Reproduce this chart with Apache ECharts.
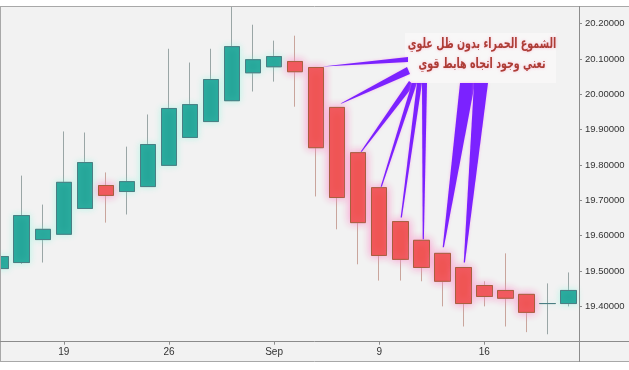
<!DOCTYPE html>
<html>
<head>
<meta charset="utf-8">
<script src="https://cdn.jsdelivr.net/npm/echarts@6/dist/echarts.min.js"></script>
<style>html,body{margin:0;padding:0;background:#fff;}#c{width:629px;height:370px;}</style>
</head>
<body>
<div id="c"></div>
<script>
// ---- data (daily candles) ----
const dates = ['2019-08-14','2019-08-15','2019-08-16',
  '2019-08-19','2019-08-20','2019-08-21','2019-08-22','2019-08-23',
  '2019-08-26','2019-08-27','2019-08-28','2019-08-29','2019-08-30',
  '2019-09-02','2019-09-03','2019-09-04','2019-09-05','2019-09-06',
  '2019-09-09','2019-09-10','2019-09-11','2019-09-12','2019-09-13',
  '2019-09-16','2019-09-17','2019-09-18','2019-09-19','2019-09-20'];
const opens  = [19.507,19.524,19.589,19.604,19.677,19.742,19.725,19.739,19.799,19.878,19.923,19.982,20.061,20.078,20.093,20.076,19.963,19.835,19.736,19.640,19.587,19.550,19.510,19.459,19.445,19.434,19.408,19.408];
const closes = [19.541,19.657,19.618,19.751,19.807,19.714,19.753,19.858,19.960,19.971,20.042,20.135,20.098,20.107,20.064,19.849,19.708,19.637,19.544,19.533,19.510,19.471,19.408,19.428,19.423,19.383,19.408,19.445];
const lows   = [19.369,19.520,19.524,19.603,19.676,19.637,19.660,19.738,19.798,19.877,19.922,19.981,20.008,20.036,19.965,19.711,19.618,19.519,19.473,19.473,19.471,19.400,19.343,19.400,19.343,19.327,19.321,19.400];
const highs  = [19.753,19.770,19.688,19.895,19.892,19.779,19.852,19.943,20.129,20.090,20.129,20.255,20.197,20.152,20.166,20.076,19.963,19.835,19.736,19.640,19.587,19.550,19.510,19.471,19.550,19.434,19.465,19.496];
const xLabelDates = ['2019-08-19','2019-08-26','2019-09-02','2019-09-09','2019-09-16'];
const xLabelTexts = ['19','26','Sep','9','16'];
const annotationText = 'الشموع الحمراء بدون ظل علوي\nتعني وجود اتجاه هابط قوي';
const annotatedCandles = ['2019-09-04','2019-09-05','2019-09-06','2019-09-09','2019-09-10','2019-09-11','2019-09-12','2019-09-13'];

const full = dates.map((d, i) => [opens[i], closes[i], lows[i], highs[i]]);
const bodies = dates.map((d, i) => {
  const up = closes[i] >= opens[i];
  return {
    value: [opens[i], closes[i], Math.min(opens[i], closes[i]), Math.max(opens[i], closes[i])],
    itemStyle: {shadowBlur: up ? 6 : 8, shadowOffsetX: 0, shadowOffsetY: 0,
      shadowColor: up ? 'rgba(120,255,225,0.45)' : 'rgba(255,140,200,0.95)'}
  };
});

const chart = echarts.init(document.getElementById('c'), null, {renderer: 'canvas', width: 629, height: 370});
const showLabel = (idx, val) => xLabelDates.indexOf(val) >= 0;

chart.setOption({
  animation: false,
  backgroundColor: '#f2f2f2',
  grid: {left: -9.8, right: 50, top: 6, bottom: 28.3, containLabel: false, outerBoundsMode: 'none'},
  xAxis: {
    type: 'category', data: dates, boundaryGap: true,
    axisLine: {show: false},
    axisTick: {show: true, alignWithLabel: true, interval: showLabel, length: 3, lineStyle: {color: '#8c8c8c'}},
    axisLabel: {interval: showLabel, formatter: v => xLabelTexts[xLabelDates.indexOf(v)], margin: 6,
      fontSize: 10, color: '#333', fontFamily: 'Liberation Sans'},
    splitLine: {show: false}
  },
  yAxis: {
    type: 'value', position: 'right', min: 19.3, max: 20.25, interval: 0.1, scale: true,
    axisLine: {show: false},
    axisTick: {show: true, length: 3, inside: false, lineStyle: {color: '#8c8c8c'}},
    axisLabel: {formatter: v => v.toFixed(5), margin: 6, fontSize: 9.5, color: '#333',
      fontFamily: 'Liberation Sans', showMinLabel: false, showMaxLabel: false},
    splitLine: {show: false}
  },
  series: [
    {
      type: 'candlestick', data: full, barWidth: 16, clip: true, z: 2, large: false,
      itemStyle: {color: '#26a69a', color0: '#ef5350', borderColor: '#9aa6a6', borderColor0: '#c9a59c', borderWidth: 1}
    },
    {
      type: 'candlestick', data: bodies, barWidth: 16, clip: true, z: 3, large: false,
      itemStyle: {color: '#26a69a', color0: '#ef5350', borderColor: '#4b7e84', borderColor0: '#a5603f', borderWidth: 1}
    }
  ]
});

// frame + annotation
const elems = [
  {type: 'rect', shape: {x: 0, y: 0, width: 629, height: 6}, style: {fill: '#ffffff'}, silent: true, z: 10},
  {type: 'rect', shape: {x: 0, y: 362, width: 629, height: 8}, style: {fill: '#ffffff'}, silent: true, z: 10},
  {type: 'line', shape: {x1: 0, y1: 6.5, x2: 629, y2: 6.5}, style: {stroke: '#a8a8a8', lineWidth: 1}, silent: true, z: 11},
  {type: 'line', shape: {x1: 0, y1: 361.5, x2: 629, y2: 361.5}, style: {stroke: '#a8a8a8', lineWidth: 1}, silent: true, z: 11},
  {type: 'line', shape: {x1: 0.5, y1: 6, x2: 0.5, y2: 362}, style: {stroke: '#a8a8a8', lineWidth: 1}, silent: true, z: 11},
  {type: 'line', shape: {x1: 0, y1: 341.5, x2: 629, y2: 341.5}, style: {stroke: '#8c8c8c', lineWidth: 1}, silent: true, z: 11},
  {type: 'line', shape: {x1: 579.5, y1: 6, x2: 579.5, y2: 362}, style: {stroke: '#8c8c8c', lineWidth: 1}, silent: true, z: 11},
  {type: 'rect', shape: {x: 405, y: 33, width: 151, height: 50}, style: {fill: '#f8f7f7'}, silent: true, z: 20}
];
const wedgeStyle = [
  // [dx, dy, thickA, thickB]
  [7, -1, [408, 57], [408, 62]],
  [4, -4, [407, 67], [410, 74]],
  [3, -1, [409, 81], [414, 85]],
  [2, -1, [412, 83], [417, 83]],
  [1, -4, [417, 83], [422, 83]],
  [2, -1, [422, 83], [427, 83]],
  [1, -6, [460, 83], [475, 83]],
  [1, -5, [474, 83], [488, 83]]
];
annotatedCandles.forEach((d, k) => {
  const i = dates.indexOf(d);
  const p = chart.convertToPixel({xAxisIndex: 0, yAxisIndex: 0}, [d, opens[i]]);
  const s = wedgeStyle[k];
  const tx = p[0] + s[0], ty = p[1] + s[1];
  elems.push({type: 'polygon', shape: {points: [s[2], s[3], [tx + 0.6, ty], [tx - 0.6, ty]]},
    style: {fill: '#7b22ff', shadowBlur: 3, shadowColor: 'rgba(255,150,230,0.6)'}, silent: true, z: 21});
});
elems.push({type: 'text', x: 482, y: 54, scaleX: 0.68, scaleY: 1, silent: true, z: 22,
  style: {text: annotationText, x: 0, y: 0, align: 'center', verticalAlign: 'middle', fill: '#ad3d36',
    font: 'bold 14px "DejaVu Sans"', lineHeight: 20, textShadowColor: 'rgba(255,140,180,0.6)', textShadowBlur: 3}});
chart.setOption({graphic: {elements: elems}});
</script>
</body>
</html>
